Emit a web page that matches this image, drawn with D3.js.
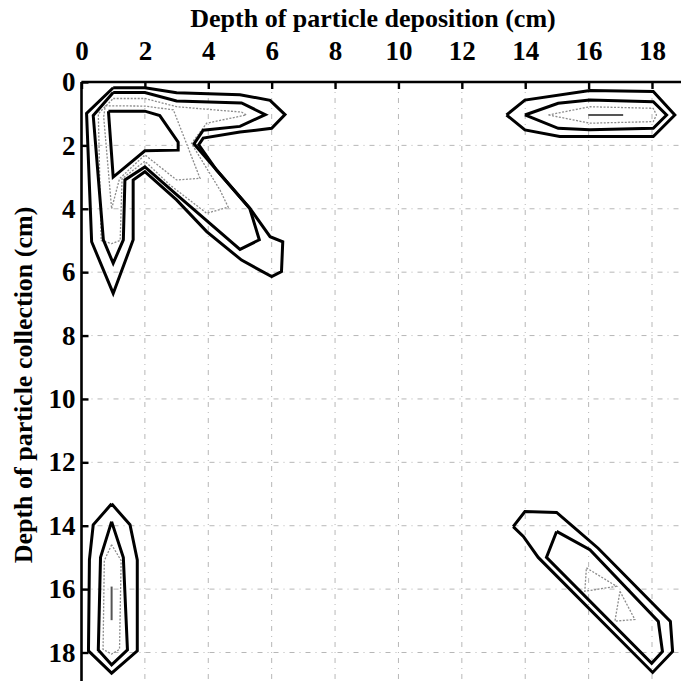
<!DOCTYPE html>
<html>
<head>
<meta charset="utf-8">
<script src="https://cdn.jsdelivr.net/npm/d3@7"></script>
<style>
  body { margin: 0; background: #fff; }
  svg { display: block; }
</style>
</head>
<body>
<div id="chart"></div>
<script>
// tick values on both axes
var xTicks = [0, 2, 4, 6, 8, 10, 12, 14, 16, 18];
var yTicks = [0, 2, 4, 6, 8, 10, 12, 14, 16, 18];
var gridVals = [2, 4, 6, 8, 10, 12, 14, 16, 18];

// contour lines, [deposition, collection] in cm
// upper left group
var nwOuter = [[1.0,0.18],[2.0,0.18],[3.0,0.34],[5.0,0.4],[5.95,0.58],[6.42,1.03],[6.0,1.46],[5.0,1.58],[3.84,1.77],[3.7,1.98],[4.26,2.78],[5.31,3.98],[5.95,4.88],[6.35,5.04],[6.31,5.98],[6.0,6.14],[5.05,5.62],[3.95,4.72],[3.0,3.72],[2.0,2.83],[1.63,3.09],[1.63,4.98],[1.0,6.67],[0.32,5.04],[0.16,0.99],[1.0,0.18]];
var nwMid = [[1.0,0.33],[2.0,0.33],[3.0,0.6],[5.05,0.66],[5.8,1.03],[5.0,1.4],[3.84,1.52],[3.55,1.95],[5.31,3.99],[5.61,4.98],[5.0,5.28],[3.0,3.55],[2.0,2.68],[1.37,3.09],[1.32,4.98],[1.0,5.72],[0.69,4.98],[0.37,1.06],[1.0,0.33]];
var nwInner = [[0.85,0.92],[2.0,0.92],[2.47,1.06],[3.05,1.9],[3.05,2.15],[2.0,2.17],[1.0,3.0],[0.85,0.92]];
var nwDot1 = [[1.0,0.52],[2.0,0.52],[3.0,0.78],[5.05,0.95],[5.2,1.04],[3.95,1.3],[3.47,1.94],[4.37,3.41],[4.63,3.95],[3.95,4.14],[2.79,3.25],[2.0,2.5],[1.28,3.05],[1.22,5.0],[0.95,5.1],[0.62,5.0],[0.53,1.0],[1.0,0.52]];
var nwDot2 = [[0.75,0.75],[2.0,0.76],[2.9,0.88],[3.74,3.04],[3.0,3.09],[2.0,2.3],[1.2,3.05],[0.95,4.0],[0.7,1.1],[0.75,0.75]];
// upper right group
var neOuter = [[13.41,1.04],[13.99,0.57],[16.04,0.27],[18.04,0.3],[18.72,1.04],[18.04,1.72],[15.09,1.72],[13.99,1.51],[13.41,1.04]];
var neMid = [[13.99,1.04],[15.04,0.67],[16.04,0.57],[18.04,0.62],[18.46,1.04],[18.04,1.46],[16.04,1.51],[15.04,1.46],[13.99,1.04]];
var neDot = [[14.73,1.04],[16.04,0.78],[18.04,0.83],[18.14,1.04],[18.04,1.25],[16.04,1.3],[14.73,1.04]];
var nePeak = [[15.99,1.04],[17.09,1.04]];
// lower left group
var swOuter = [[0.95,13.31],[0.37,13.97],[0.25,15.08],[0.22,17.95],[0.95,18.65],[1.76,17.95],[1.76,15.08],[1.53,13.97],[0.95,13.31]];
var swMid = [[0.95,13.87],[0.6,15.0],[0.53,17.92],[0.95,18.39],[1.45,17.92],[1.32,15.0],[0.95,13.87]];
var swDot = [[0.95,14.6],[0.72,15.1],[0.68,17.9],[0.95,18.05],[1.2,17.9],[1.25,15.1],[0.95,14.6]];
var swPeak = [[0.95,15.92],[0.95,16.98]];
// lower right group
var seOuter = [[13.62,14.03],[13.99,13.55],[14.99,13.58],[15.51,14.03],[16.3,14.71],[18.58,17.02],[18.65,17.97],[18.02,18.63],[14.41,15.0],[13.94,14.34],[13.62,14.03]];
var seMid = [[14.99,14.18],[16.04,14.76],[18.2,17.02],[18.33,17.97],[17.99,18.34],[14.67,15.0],[14.99,14.18]];
var seTri1 = [[15.93,15.33],[16.88,15.91],[15.88,16.07],[15.93,15.33]];
var seTri2 = [[16.99,16.07],[17.46,16.96],[16.83,17.01],[16.99,16.07]];

var solidLines = [nwOuter, nwMid, nwInner, neOuter, neMid, swOuter, swMid, seOuter, seMid];
var dottedLines = [nwDot1, nwDot2, neDot, swDot, seTri1, seTri2];
var peakLines = [nePeak, swPeak];

var W = 681, H = 681;
var serif = "'Liberation Serif', 'Times New Roman', serif";

var x = d3.scaleLinear().domain([0, 18]).range([81.5, 652]);
var y = d3.scaleLinear().domain([0, 18]).range([82, 652.5]);

var svg = d3.select("#chart").append("svg")
    .attr("width", W)
    .attr("height", H);

// grid
svg.append("g").selectAll("line.vg")
    .data(gridVals).enter().append("line")
    .attr("x1", function (d) { return x(d); })
    .attr("x2", function (d) { return x(d); })
    .attr("y1", y(0))
    .attr("y2", H)
    .attr("stroke", "#a5a5a5")
    .attr("stroke-width", 0.8)
    .attr("stroke-dasharray", "5,5,1,5");
svg.append("g").selectAll("line.hg")
    .data(gridVals).enter().append("line")
    .attr("x1", x(0))
    .attr("x2", W)
    .attr("y1", function (d) { return y(d); })
    .attr("y2", function (d) { return y(d); })
    .attr("stroke", "#a5a5a5")
    .attr("stroke-width", 0.8)
    .attr("stroke-dasharray", "5,5,1,5");

var line = d3.line()
    .x(function (d) { return x(d[0]); })
    .y(function (d) { return y(d[1]); });

svg.append("g").selectAll("path")
    .data(dottedLines).enter().append("path")
    .attr("d", line)
    .attr("fill", "none")
    .attr("stroke", "#8c8c8c")
    .attr("stroke-width", 1.3)
    .attr("stroke-dasharray", "2,1.5");

svg.append("g").selectAll("path")
    .data(peakLines).enter().append("path")
    .attr("d", line)
    .attr("fill", "none")
    .attr("stroke", "#555")
    .attr("stroke-width", 2);

svg.append("g").selectAll("path")
    .data(solidLines).enter().append("path")
    .attr("d", line)
    .attr("fill", "none")
    .attr("stroke", "#000")
    .attr("stroke-width", 3)
    .attr("stroke-linejoin", "miter");

// axes (top and left, ticks pointing inward)
var xAxis = d3.axisTop(x)
    .tickValues(xTicks)
    .tickSizeInner(-7)
    .tickSizeOuter(0)
    .tickPadding(22);
var yAxis = d3.axisLeft(y)
    .tickValues(yTicks)
    .tickSizeInner(-7)
    .tickSizeOuter(0)
    .tickPadding(6);

var gx = svg.append("g")
    .attr("transform", "translate(0," + y(0) + ")")
    .call(xAxis);
var gy = svg.append("g")
    .attr("transform", "translate(" + x(0) + ",0)")
    .call(yAxis);

gx.select(".domain").attr("d", "M" + x(0) + ",0H" + W);
gy.select(".domain").attr("d", "M0," + y(0) + "V" + H);

[gx, gy].forEach(function (g) {
    g.attr("font-family", serif)
        .attr("font-size", 27)
        .attr("font-weight", "bold");
    g.select(".domain").attr("stroke", "#000").attr("stroke-width", 2.6);
    g.selectAll(".tick line").attr("stroke", "#000").attr("stroke-width", 2.4);
    g.selectAll(".tick text").attr("fill", "#000");
});

svg.append("text")
    .attr("x", 373)
    .attr("y", 27)
    .attr("text-anchor", "middle")
    .attr("font-family", serif)
    .attr("font-size", 26)
    .attr("font-weight", "bold")
    .text("Depth of particle deposition (cm)");

svg.append("text")
    .attr("transform", "translate(32,385) rotate(-90)")
    .attr("text-anchor", "middle")
    .attr("font-family", serif)
    .attr("font-size", 26)
    .attr("font-weight", "bold")
    .text("Depth of particle collection (cm)");
</script>
</body>
</html>
